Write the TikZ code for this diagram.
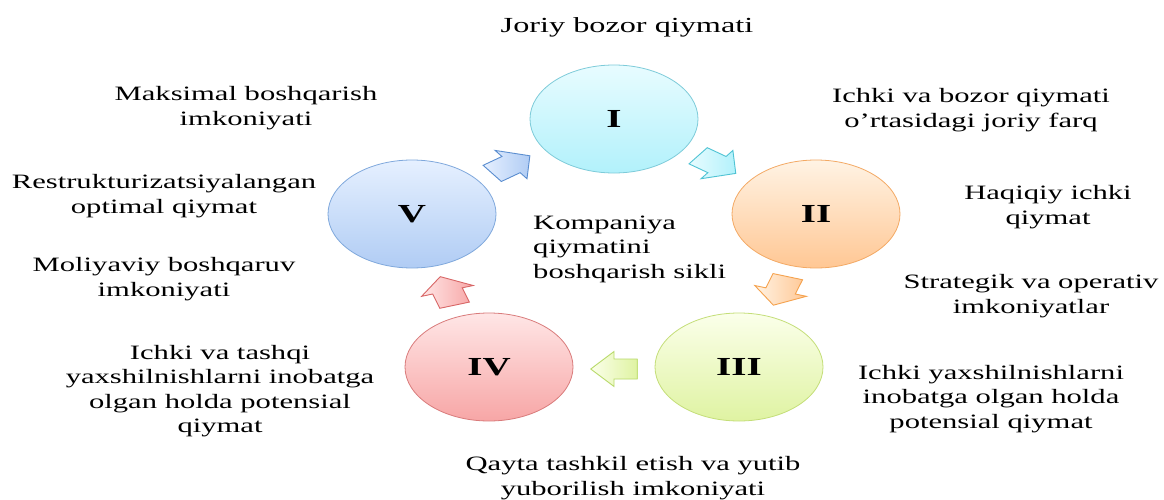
\documentclass[tikz,border=0pt]{standalone}
\usepackage{fontspec}
\setmainfont{Liberation Serif}[FakeStretch=1.5]
\usetikzlibrary{shapes.geometric,calc}

\definecolor{cIb}{HTML}{7DCBD9}\definecolor{cIt}{HTML}{E8FCFF}\definecolor{cIl}{HTML}{B2F1FB}
\definecolor{cIIb}{HTML}{F3A964}\definecolor{cIIt}{HTML}{FFF3E4}\definecolor{cIIl}{HTML}{FFC794}
\definecolor{cIIIb}{HTML}{C4DE78}\definecolor{cIIIt}{HTML}{FBFFEA}\definecolor{cIIIl}{HTML}{DFF3A2}
\definecolor{cIVb}{HTML}{D97B7B}\definecolor{cIVt}{HTML}{FFE6E6}\definecolor{cIVl}{HTML}{F7A6A6}
\definecolor{cVb}{HTML}{7FA8DC}\definecolor{cVt}{HTML}{E6F0FF}\definecolor{cVl}{HTML}{B0CCF4}
\definecolor{aVb}{HTML}{5B8ED0}
\definecolor{aIb}{HTML}{4FC3D4}
\definecolor{aIIb}{HTML}{F5A24E}
\definecolor{aIIIb}{HTML}{B8DA6A}
\definecolor{aIVb}{HTML}{D86666}

\tikzset{
  stage/.style={ellipse, minimum width=168pt, minimum height=108pt, inner sep=0pt,
    line width=0.8pt, font=\fontsize{26}{30}\selectfont\bfseries},
  lbl/.style={align=center, inner sep=0pt, font=\fontsize{20.4}{24.5}\selectfont},
  blk/.style={line width=0.9pt, line join=miter},
}

% #1 name of centre coordinate, #2 position angle, #3 direction, #4 border, #5 tail colour, #6 head colour
\newcommand\cycarrow[6]{%
  \coordinate (#1) at ($(ctr)+({175.15*cos(#2)},{-113*sin(#2)})$);
  \begin{scope}[shift={(#1)}, xscale=1.55, rotate=#3]
    \draw[blk, draw=#4, left color=#5, right color=#6]
      (-15,-10) -- (0,-10) -- (0,-17.5) -- (15,0) -- (0,17.5) -- (0,10) -- (-15,10) -- cycle;
  \end{scope}}

\begin{document}
\begin{tikzpicture}[x=1pt,y=-1pt]
\useasboundingbox (0,0) rectangle (1164,500);
\fill[white] (0,0) rectangle (1164,500);
\coordinate (ctr) at (614,256);

\node[stage, draw=cIb, top color=cIt, bottom color=cIl] (s1) at (614,119) {I};
\node[stage, draw=cIIb, top color=cIIt, bottom color=cIIl] (s2) at (816,214) {II};
\node[stage, draw=cIIIb, top color=cIIIt, bottom color=cIIIl] (s3) at (739,367) {III};
\node[stage, draw=cIVb, top color=cIVt, bottom color=cIVl] (s4) at (489,367) {IV};
\node[stage, draw=cVb, top color=cVt, bottom color=cVl] (s5) at (412,214) {V};

\cycarrow{a51}{126}{36}{aVb}{cVt}{cVl}
\cycarrow{a12}{54}{-36}{aIb}{cIt}{cIl}
\cycarrow{a23}{-18}{-108}{aIIb}{cIIt}{cIIl}
\cycarrow{a34}{-90}{180}{aIIIb}{cIIIt}{cIIIl}
\cycarrow{a45}{-162}{108}{aIVb}{cIVt}{cIVl}

\node[lbl, align=left, anchor=west] (center) at (533,249) {Kompaniya\\qiymatini\\boshqarish sikli};

\node[lbl, font=\fontsize{21.5}{25}\selectfont] (t1) at (627,27) {Joriy bozor qiymati};
\node[lbl] (t2) at (971,110) {Ichki va bozor qiymati\\o’rtasidagi joriy farq};
\node[lbl] (t3) at (1048,207) {Haqiqiy ichki\\qiymat};
\node[lbl] (t4) at (1031,296) {Strategik va operativ\\imkoniyatlar};
\node[lbl] (t5) at (991,399) {Ichki yaxshilnishlarni\\inobatga olgan holda\\potensial qiymat};
\node[lbl] (t6) at (633,478) {Qayta tashkil etish va yutib\\yuborilish imkoniyati};
\node[lbl] (t7) at (220,391) {Ichki va tashqi\\yaxshilnishlarni inobatga\\olgan holda potensial\\qiymat};
\node[lbl] (t8) at (164,279) {Moliyaviy boshqaruv\\imkoniyati};
\node[lbl] (t9) at (164,196) {Restrukturizatsiyalangan\\optimal qiymat};
\node[lbl] (t10) at (246,108) {Maksimal boshqarish\\imkoniyati};
\end{tikzpicture}
\end{document}
